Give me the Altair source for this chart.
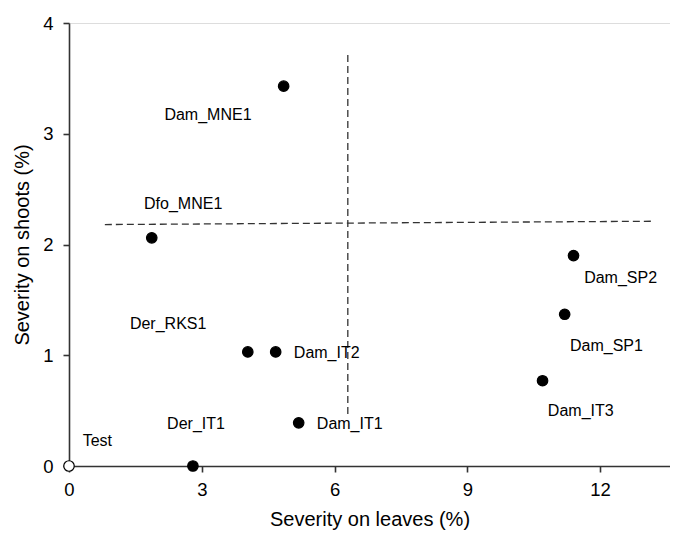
import altair as alt
import pandas as pd

# Points
names = ["Test", "Der_IT1", "Dam_IT1", "Der_RKS1", "Dam_IT2", "Dfo_MNE1",
         "Dam_MNE1", "Dam_IT3", "Dam_SP1", "Dam_SP2"]
leaves = [0.0, 2.8, 5.19, 4.04, 4.67, 1.87, 4.85, 10.7, 11.2, 11.4]
shoots = [0.0, 0.0, 0.39, 1.03, 1.03, 2.06, 3.43, 0.77, 1.37, 1.90]
filled = [False, True, True, True, True, True, True, True, True, True]

# Label anchors (data units) and alignment
label_x = [0.31, 2.87, 5.6, 2.24, 5.08, 2.58, 3.14, 10.82, 11.32, 11.64]
label_y = [0.23, 0.38, 0.38, 1.28, 1.02, 2.37, 3.17, 0.50, 1.08, 1.70]
label_align = ["left", "center", "left", "center", "left", "center",
               "center", "left", "left", "left"]

# Dashed reference lines
h_x = [0.81, 13.16]
h_y = [2.18, 2.21]
v_x = [6.3, 6.3]
v_y = [0.47, 3.74]

pts = pd.DataFrame({"name": names, "leaves": leaves, "shoots": shoots,
                    "filled": ["yes" if f else "no" for f in filled]})
labs = pd.DataFrame({"name": names, "lx": label_x, "ly": label_y,
                     "align": label_align})
hline = pd.DataFrame({"x": h_x, "y": h_y})
vline = pd.DataFrame({"x": v_x, "y": v_y})

FONT = "Liberation Sans"
xscale = alt.Scale(domain=[0, 13.58], nice=False, zero=False)
yscale = alt.Scale(domain=[0, 4], nice=False, zero=False)

common = dict(grid=False, tickSize=6, format="d",
              labelFontSize=18.5, titleFontSize=20, labelFont=FONT, titleFont=FONT,
              domainColor="#333", tickColor="#333", domainWidth=1.6, tickWidth=1.6,
              labelColor="black", titleColor="black", titleFontWeight="normal",
              labelFlush=False)
xax = alt.Axis(values=[0, 3, 6, 9, 12], labelPadding=8, titlePadding=11, **common)
yax = alt.Axis(values=[0, 1, 2, 3, 4], labelPadding=10, titlePadding=10, **common)

hl = alt.Chart(hline).mark_line(color="#333", strokeDash=[7, 4], strokeWidth=1.3).encode(
    x=alt.X("x:Q", scale=xscale, axis=xax, title="Severity on leaves (%)"),
    y=alt.Y("y:Q", scale=yscale, axis=yax, title="Severity on shoots (%)"),
)
vl = alt.Chart(vline).mark_line(color="#333", strokeDash=[7, 4], strokeWidth=1.3).encode(
    x=alt.X("x:Q", scale=xscale), y=alt.Y("y:Q", scale=yscale), order=alt.Order("y:Q"))

points = alt.Chart(pts).mark_point(filled=False, size=110, strokeWidth=1.2, opacity=1).encode(
    x=alt.X("leaves:Q", scale=xscale),
    y=alt.Y("shoots:Q", scale=yscale),
    fill=alt.Fill("filled:N", scale=alt.Scale(domain=["yes", "no"], range=["black", "white"]), legend=None),
    stroke=alt.value("black"),
    shape=alt.value("circle"),
)

def lab(al):
    return alt.Chart(labs).transform_filter(alt.datum.align == al).mark_text(
        font=FONT, fontSize=16, align=al, baseline="middle", color="black").encode(
        x=alt.X("lx:Q", scale=xscale), y=alt.Y("ly:Q", scale=yscale), text="name:N")

chart = alt.layer(hl, vl, lab("left"), lab("center"), points).properties(
    width=601, height=443,
    autosize=alt.AutoSizeParams(type="none"),
    padding={"left": 61, "top": 15, "right": 0, "bottom": 66},
).configure_view(stroke=None).configure(background="white")

chart.save("out.html", embed_options={"renderer": "svg", "actions": False})
